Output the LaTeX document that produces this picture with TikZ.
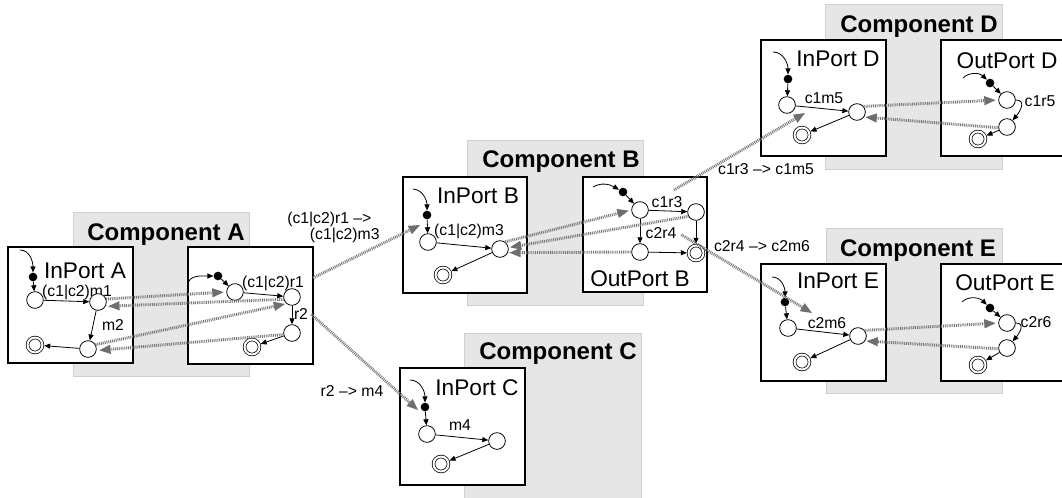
\documentclass[tikz,border=0pt]{standalone}
\usepackage{fontspec}
\setmainfont{Liberation Sans}
\usetikzlibrary{arrows.meta,calc}
\newcommand\mytitlefont{\fontsize{18}{20}\selectfont\bfseries}
\newcommand\myportfont{\fontsize{17}{19}\selectfont}
\newcommand\mylabfont{\fontsize{11.8}{12}\selectfont}
\definecolor{compgray}{HTML}{E6E6E6}
\definecolor{compedge}{HTML}{CFCFCF}
\definecolor{dotgray}{HTML}{7A7A7A}
\definecolor{tipgray}{HTML}{6E6E6E}
\begin{document}
\begin{tikzpicture}[x=0.75pt,y=-0.75pt,
  comp/.style={fill=compgray,draw=compedge,line width=0.6pt},
  portbox/.style={fill=white,draw=black,line width=0.8pt},
  ttl/.style={font=\mytitlefont,inner sep=0pt,anchor=base},
  plab/.style={font=\myportfont,inner sep=0pt,anchor=base},
  lab/.style={font=\mylabfont,inner sep=0pt,anchor=base},
  st/.style={circle,draw=black,fill=white,line width=0.6pt,minimum size=12.5pt,inner sep=0pt},
  fin/.style={circle,draw=black,double,double distance=1.5pt,line width=0.55pt,minimum size=11.2pt,inner sep=0pt,outer sep=1.3pt},
  ini/.style={circle,fill=black,minimum size=6.5pt,inner sep=0pt},
  tr/.style={-{Triangle[length=4.5pt,width=3.8pt]},line width=0.6pt},
  dotc/.style={draw=dotgray,line width=2.2pt,dash pattern=on 0.7pt off 0.7pt,
     -{Triangle[length=8.5pt,width=7pt,color=tipgray,fill=tipgray,line width=0pt]}}
]
\useasboundingbox (0,0) rectangle (1062,497);
\clip (0,0) rectangle (1062,497);

% component backgrounds
\path[comp] (73,212) rectangle (249,376);
\path[comp] (467,140) rectangle (643,305);
\path[comp] (464,333) rectangle (641,510);
\path[comp] (825,4) rectangle (1002,169);
\path[comp] (826,228) rectangle (1002,393);

\node[ttl] (titleA) at (166,240) {Component A};
\node[ttl] (titleB) at (561,167) {Component B};
\node[ttl] (titleC) at (558,359) {Component C};
\node[ttl] (titleD) at (919,32) {Component D};
\node[ttl] (titleE) at (918,256) {Component E};

% port boxes
\path[portbox] (8,247) rectangle (133,363);
\path[portbox] (188,247) rectangle (313,364);
\path[portbox] (403,177) rectangle (527,293);
\path[portbox] (583,177) rectangle (707,292);
\path[portbox] (400,368) rectangle (525,485);
\path[portbox] (761,40) rectangle (886,156);
\path[portbox] (941,40) rectangle (1070,156);
\path[portbox] (761,264) rectangle (886,381);
\path[portbox] (941,264) rectangle (1070,381);

\node[plab] (pInA) at (85,278) {InPort A};
\node[plab] (pInB) at (478,203) {InPort B};
\node[plab] (pOutB) at (640,286) {OutPort B};
\node[plab] (pInC) at (477,395) {InPort C};
\node[plab] (pInD) at (838,66) {InPort D};
\node[plab] (pOutD) at (1007,68) {OutPort D};
\node[plab] (pInE) at (838,288) {InPort E};
\node[plab] (pOutE) at (1005,290) {OutPort E};

% transition labels
\node[lab] (lA1) at (77,296) {(c1|c2)m1};
\node[lab] (lA2) at (113,330) {m2};
\node[lab] (lOA1) at (273,287) {(c1|c2)r1};
\node[lab] (lOA2) at (301,319) {r2};
\node[lab] (lB1) at (469,235) {(c1|c2)m3};
\node[lab] (lOB1) at (667,207) {c1r3};
\node[lab] (lOB2) at (661,238) {c2r4};
\node[lab] (lC1) at (460,430) {m4};
\node[lab] (lD1) at (824,103) {c1m5};
\node[lab] (lOD1) at (1040,106) {c1r5};
\node[lab] (lE1) at (827,328) {c2m6};
\node[lab] (lOE1) at (1036,327) {c2r6};

% connector labels
\node[font=\mylabfont,inner sep=0pt,align=left,anchor=west] (cAB) at (287,227)
  {\baselineskip=12pt (c1|c2)r1 –>\\\hspace*{17pt}(c1|c2)m3};
\node[lab] (cAC) at (352,396) {r2 –> m4};
\node[lab] (cBD) at (766,174) {c1r3 –> c1m5};
\node[lab] (cBE) at (762,251) {c2r4 –> c2m6};

% ---- InPort A
\coordinate (iniA) at (20,250);
\node[ini] (dotA) at (33,277) {};
\node[st] (sA1) at (35,300) {};
\node[st] (sA2) at (98,302) {};
\node[st] (sA3) at (88,349) {};
\node[fin] (fA) at (35,345) {};
% ---- OutPort A
\coordinate (iniOA) at (188,285);
\node[ini] (dotOA) at (218,276) {};
\node[st] (tA1) at (235,292) {};
\node[st] (tA2) at (292,297) {};
\node[st] (tA3) at (292,333) {};
\node[fin] (fOA) at (252,347) {};
% ---- InPort B
\coordinate (iniB) at (413,189);
\node[ini] (dotB) at (427,215) {};
\node[st] (sB1) at (428,242) {};
\node[st] (sB2) at (500,249) {};
\node[fin] (fB) at (443,275) {};
% ---- OutPort B
\coordinate (iniOB) at (593,187);
\node[ini] (dotOB) at (623,192) {};
\node[st] (uB1) at (640,210) {};
\node[st] (uB2) at (696,212) {};
\node[st] (uB3) at (640,252) {};
\node[fin] (fOB) at (696,253) {};
% ---- InPort C
\coordinate (iniC) at (410,380);
\node[ini] (dotC) at (425,407) {};
\node[st] (zC1) at (427,434) {};
\node[st] (zC2) at (497,441) {};
\node[fin] (fC) at (441,464) {};
% ---- InPort D
\coordinate (iniD) at (773,52);
\node[ini] (dotD) at (788,79) {};
\node[st] (vD1) at (787,105) {};
\node[st] (vD2) at (857,112) {};
\node[fin] (fD) at (802,135) {};
% ---- OutPort D
\coordinate (iniOD) at (963,78);
\node[ini] (dotOD) at (990,83) {};
\node[st] (wD1) at (1007,100) {};
\node[st] (wD2) at (1007,127) {};
\node[fin] (fOD) at (978,139) {};
% ---- InPort E
\coordinate (iniE) at (772,277);
\node[ini] (dotE) at (785,302) {};
\node[st] (xE1) at (788,328) {};
\node[st] (xE2) at (858,336) {};
\node[fin] (fE) at (802,362) {};
% ---- OutPort E
\coordinate (iniOE) at (962,302);
\node[ini] (dotOE) at (990,308) {};
\node[st] (yE1) at (1007,323) {};
\node[st] (yE2) at (1007,348) {};
\node[fin] (fOE) at (978,365) {};

% transitions
\draw[tr] (iniA) to[out=0,in=90] (dotA);
\draw[tr] (dotA) -- (sA1);
\draw[tr] (sA1) -- (sA2);
\draw[tr] (sA2) -- (sA3);
\draw[tr] (sA3) -- (fA);

\draw[tr] (iniOA) to[out=90,in=180] (dotOA);
\draw[tr] (dotOA) -- (tA1);
\draw[tr] (tA1) -- (tA2);
\draw[tr] (tA2) -- (tA3);
\draw[tr] (tA3) -- (fOA);

\draw[tr] (iniB) to[out=-5,in=90] (dotB);
\draw[tr] (dotB) -- (sB1);
\draw[tr] (sB1) -- (sB2);
\draw[tr] (sB2) -- (fB);

\draw[tr] (iniOB) to[out=30,in=150] (dotOB);
\draw[tr] (dotOB) -- (uB1);
\draw[tr] (uB1) -- (uB2);
\draw[tr] (uB1) -- (uB3);
\draw[tr] (uB2) -- (fOB);
\draw[tr] (uB3) -- (fOB);

\draw[tr] (iniC) to[out=0,in=90] (dotC);
\draw[tr] (dotC) -- (zC1);
\draw[tr] (zC1) -- (zC2);
\draw[tr] (zC2) -- (fC);

\draw[tr] (iniD) to[out=0,in=90] (dotD);
\draw[tr] (dotD) -- (vD1);
\draw[tr] (vD1) -- (vD2);
\draw[tr] (vD2) -- (fD);

\draw[tr] (iniOD) to[out=45,in=135] (dotOD);
\draw[tr] (dotOD) -- (wD1);
\draw[tr] (wD1) to[out=0,in=50,looseness=1.4] (wD2);
\draw[tr] (wD2) -- (fOD);

\draw[tr] (iniE) to[out=0,in=90] (dotE);
\draw[tr] (dotE) -- (xE1);
\draw[tr] (xE1) -- (xE2);
\draw[tr] (xE2) -- (fE);

\draw[tr] (iniOE) to[out=45,in=135] (dotOE);
\draw[tr] (dotOE) -- (yE1);
\draw[tr] (yE1) to[out=0,in=50,looseness=1.4] (yE2);
\draw[tr] (yE2) -- (fOE);

% dotted connectors inside components
\draw[dotc,shorten >=2pt] (sA2.20) -- (tA1.west);
\draw[dotc,shorten >=2pt] (tA2.195) -- (sA2.-30);
\draw[dotc,shorten >=1pt] (sA3.30) -- (tA2.230);
\draw[dotc,shorten >=2pt] (tA3.190) -- (sA3.-10);

\draw[dotc,shorten >=2pt] (sB2.55) -- (uB1.west);
\draw[dotc,shorten >=1pt] (uB2.210) -- (sB2.10);
\draw[dotc,shorten >=1pt] (uB3.west) -- (sB2.-25);

\draw[dotc,shorten >=2pt] (vD2.40) -- (wD1.west);
\draw[dotc,shorten >=1pt] (wD2.185) -- (vD2.-35);
\draw[dotc,shorten >=2pt] (xE2.40) -- (yE1.west);
\draw[dotc,shorten >=1pt] (yE2.185) -- (xE2.-35);

% dotted connectors between components
\draw[dotc,shorten <=17.6pt] (tA2.north) -- ($(sB1)+(-8,-17)$);
\draw[dotc,shorten <=13pt] (tA2) -- ($(dotC)+(-7,3)$);
\draw[dotc,shorten <=23pt] (uB1) -- ($(vD1)+(18,8)$);
\draw[dotc,shorten <=29.6pt] (uB1) -- ($(xE1)+(24,-15)$);
\end{tikzpicture}
\end{document}
